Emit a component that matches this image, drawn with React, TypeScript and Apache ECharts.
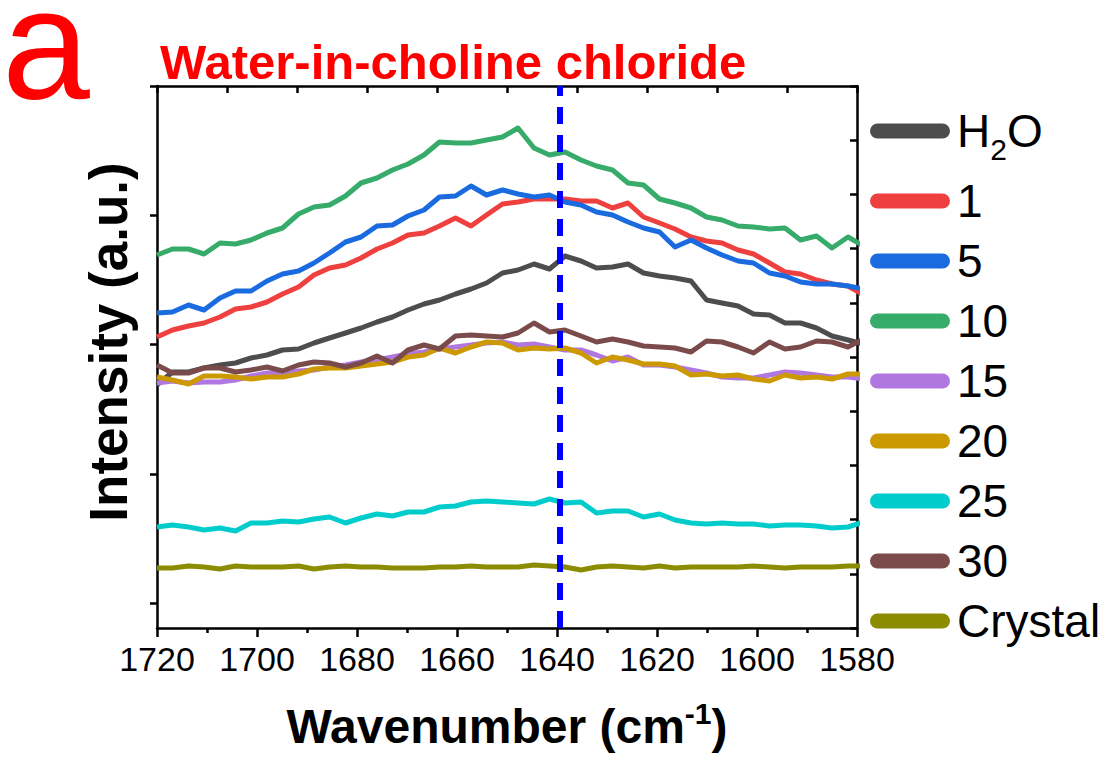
import React, { useEffect, useRef } from "react";
import * as echarts from "echarts";

// Raman shift axis (cm-1), shared by every spectrum
const wavenumbers = [
  1720.0, 1716.9, 1713.7, 1710.6, 1707.4, 1704.3, 1701.2, 1698.0, 1694.9, 1691.7,
  1688.6, 1685.5, 1682.3, 1679.2, 1676.0, 1672.9, 1669.8, 1666.6, 1663.5, 1660.3,
  1657.2, 1654.1, 1650.9, 1647.8, 1644.6, 1641.5, 1638.4, 1635.2, 1632.1, 1628.9,
  1625.8, 1622.7, 1619.5, 1616.4, 1613.2, 1610.1, 1607.0, 1603.8, 1600.7, 1597.5,
  1594.4, 1591.3, 1588.1, 1585.0, 1581.8, 1578.7,
];

// Offset intensities (a.u.)
const h2o = [
  243, 256, 256, 260, 263, 265, 270, 273, 278, 279,
  285, 290, 295, 300, 306, 311, 318, 324, 328, 334,
  339, 345, 355, 358, 364, 359, 372, 367, 360, 361,
  364, 355, 352, 350, 347, 328, 325, 322, 314, 313,
  305, 305, 300, 292, 288, 284,
];
const ratio1 = [
  291, 298, 302, 305, 311, 319, 321, 326, 334, 341,
  353, 360, 363, 370, 379, 385, 393, 395, 402, 410,
  402, 413, 424, 426, 429, 429, 429, 427, 427, 420,
  425, 411, 405, 399, 391, 387, 385, 378, 374, 365,
  356, 354, 348, 344, 342, 333,
];
const ratio5 = [
  315, 316, 323, 318, 330, 337, 337, 347, 354, 357,
  365, 375, 386, 391, 402, 403, 412, 418, 431, 432,
  442, 433, 438, 434, 431, 433, 426, 423, 416, 413,
  406, 400, 396, 381, 388, 380, 373, 367, 365, 355,
  352, 346, 344, 344, 342, 339,
];
const ratio10 = [
  373, 379, 379, 374, 385, 384, 388, 395, 400, 414,
  421, 423, 432, 445, 450, 458, 464, 473, 486, 485,
  485, 488, 491, 500, 480, 473, 476, 468, 462, 458,
  445, 443, 429, 425, 420, 411, 408, 402, 401, 399,
  400, 388, 392, 380, 391, 382,
];
const ratio15 = [
  245, 247, 245, 246, 246, 248, 252, 255, 255, 257,
  258, 261, 263, 266, 268, 271, 274, 276, 279, 281,
  283, 285, 286, 283, 284, 281, 278, 278, 273, 267,
  271, 263, 263, 261, 258, 255, 251, 250, 250, 253,
  256, 255, 253, 251, 251, 249,
];
const ratio20 = [
  251, 248, 244, 252, 252, 251, 249, 251, 251, 254,
  259, 260, 260, 262, 264, 266, 271, 273, 280, 275,
  281, 286, 285, 278, 280, 279, 280, 275, 265, 271,
  268, 264, 264, 262, 253, 254, 252, 253, 249, 247,
  253, 250, 251, 249, 254, 254,
];
const ratio25 = [
  101, 103, 101, 98, 100, 97, 105, 105, 107, 106,
  109, 111, 105, 110, 114, 112, 116, 116, 121, 122,
  126, 127, 126, 125, 124, 129, 125, 126, 115, 117,
  117, 111, 114, 108, 105, 104, 105, 104, 104, 102,
  103, 103, 102, 100, 101, 106,
];
const ratio30 = [
  263, 255, 255, 260, 260, 256, 258, 261, 257, 263,
  266, 265, 261, 265, 272, 265, 278, 283, 279, 292,
  293, 292, 291, 295, 305, 296, 298, 292, 286, 289,
  286, 282, 281, 280, 276, 287, 286, 281, 275, 286,
  279, 281, 287, 286, 281, 289,
];
const crystal = [
  60, 60, 62, 61, 59, 62, 61, 61, 61, 62,
  59, 61, 62, 61, 61, 60, 60, 60, 61, 61,
  62, 61, 61, 61, 63, 62, 61, 58, 61, 62,
  61, 60, 62, 60, 61, 61, 61, 61, 62, 61,
  60, 61, 61, 61, 62, 62,
];

const seriesNames = ["H2O", "1", "5", "10", "15", "20", "25", "30", "Crystal"];
const seriesValues = [h2o, ratio1, ratio5, ratio10, ratio15, ratio20, ratio25, ratio30, crystal];
const seriesColors = [
  "#4d4d4d", "#ef4040", "#1b6be0", "#36ab6a", "#b077e0",
  "#cc9900", "#00cccc", "#7b4b4b", "#8c8c00",
];

const xTicks = [1580, 1720];
const bendingPeak = 1639.5;
const leftTickValues = [25, 154.25, 283.5, 412.75, 542];

const FONT = "'Liberation Sans', Arial, sans-serif";

export default function App() {
  const ref = useRef<HTMLDivElement>(null);

  useEffect(() => {
    if (!ref.current) return;
    const chart = echarts.init(ref.current, undefined, { renderer: "svg" });

    const capsule =
      "path://M7.5,0 L72.5,0 A7.5,7.5 0 0 1 72.5,15 L7.5,15 A7.5,7.5 0 0 1 7.5,0 Z";

    const series: any[] = seriesNames.map((name, i) => ({
      name,
      type: "line",
      xAxisIndex: 0,
      yAxisIndex: 0,
      data: wavenumbers.map((w, k) => [w, seriesValues[i][k]]),
      showSymbol: false,
      symbol: "none",
      lineStyle: { color: seriesColors[i], width: 5, join: "round" },
      itemStyle: { color: seriesColors[i] },
      clip: true,
    }));
    series[0].markLine = {
      silent: true,
      symbol: ["none", "none"],
      label: { show: false },
      lineStyle: { color: "#0000ff", width: 6, type: [17, 11] },
      data: [{ xAxis: bendingPeak }],
      z: 10,
    };

    const axisLine = { show: true, onZero: false, lineStyle: { color: "#000", width: 2.5 } };

    chart.setOption({
      animation: false,
      backgroundColor: "#fff",
      grid: { left: 157, top: 86, width: 700, height: 542, containLabel: false },
      graphic: [
        {
          type: "text",
          x: 2,
          y: 0,
          style: {
            text: "{p|a}",
            verticalAlign: "top",
            rich: {
              p: {
                fontFamily: FONT,
                fontSize: 158,
                lineHeight: 86,
                fill: "#ff0000",
                color: "#ff0000",
              },
            },
          },
        },
        {
          type: "text",
          x: 160,
          y: 62,
          style: {
            text: "Water-in-choline chloride",
            font: `bold 49px ${FONT}`,
            fill: "#ff0000",
            verticalAlign: "middle",
          },
        },
      ],
      legend: {
        orient: "vertical",
        left: 870,
        top: 98,
        padding: 0,
        itemWidth: 80,
        itemHeight: 15,
        itemGap: 14,
        icon: capsule,
        data: seriesNames,
        formatter: (name: string) =>
          name === "H2O" ? "{h|H}{s|2}{h|O}" : `{n|${name}}`,
        textStyle: {
          color: "#000",
          fontFamily: FONT,
          fontSize: 46,
          lineHeight: 46,
          padding: [0, 0, 0, 2],
          rich: {
            n: { fontSize: 46, lineHeight: 46, fontFamily: FONT, color: "#000", verticalAlign: "middle" },
            h: { fontSize: 46, lineHeight: 66, fontFamily: FONT, color: "#000", verticalAlign: "middle" },
            s: { fontSize: 30, lineHeight: 30, fontFamily: FONT, color: "#000", verticalAlign: "bottom" },
          },
        },
      },
      xAxis: [
        {
          type: "value",
          position: "bottom",
          min: xTicks[0],
          max: xTicks[1],
          interval: 20,
          inverse: true,
          axisLine,
          axisTick: { show: true, inside: false, length: 9, lineStyle: { color: "#000", width: 2.5 } },
          minorTick: { show: true, splitNumber: 2, length: 5, lineStyle: { color: "#000", width: 2.5 } },
          splitLine: { show: false },
          axisLabel: {
            color: "#000",
            fontFamily: FONT,
            fontSize: 34,
            margin: 14,
            formatter: (v: number) => String(v),
          },
          name: "{n|Wavenumber (cm}{sup|-1}{n|)}",
          nameLocation: "middle",
          nameGap: 70,
          nameTextStyle: {
            rich: {
              n: { fontFamily: FONT, fontSize: 48, fontWeight: "bold", color: "#000", lineHeight: 56, verticalAlign: "middle" },
              sup: { fontFamily: FONT, fontSize: 30, fontWeight: "bold", color: "#000", lineHeight: 30, verticalAlign: "top" },
            },
          },
        },
        {
          type: "value",
          position: "top",
          min: 0,
          max: 10,
          interval: 1,
          axisLine,
          axisTick: { show: true, inside: true, length: 7, lineStyle: { color: "#000", width: 2.5 } },
          axisLabel: { show: false },
          splitLine: { show: false },
        },
      ],
      yAxis: [
        {
          type: "value",
          position: "left",
          min: 0,
          max: 542,
          axisLine,
          axisTick: {
            show: true,
            inside: false,
            length: 7,
            customValues: leftTickValues,
            lineStyle: { color: "#000", width: 2.5 },
          },
          axisLabel: { show: false },
          splitLine: { show: false },
          name: "Intensity (a.u.)",
          nameLocation: "middle",
          nameGap: 22,
          nameTextStyle: {
            fontFamily: FONT,
            fontSize: 53,
            fontWeight: "bold",
            color: "#000",
            padding: [0, 0, 0, 30],
          },
        },
        {
          type: "value",
          position: "right",
          min: 0,
          max: 10,
          interval: 1,
          axisLine,
          axisTick: { show: true, inside: true, length: 7, lineStyle: { color: "#000", width: 2.5 } },
          axisLabel: { show: false },
          splitLine: { show: false },
        },
      ],
      series,
    });

    return () => chart.dispose();
  }, []);

  return (
    <div
      ref={ref}
      style={{ position: "absolute", left: 0, top: 0, width: 1111, height: 760, background: "#fff" }}
    />
  );
}
